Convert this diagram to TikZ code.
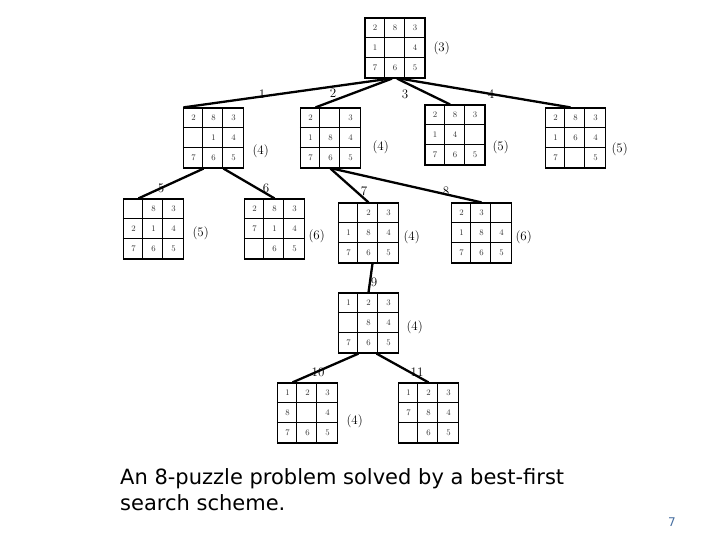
\documentclass[tikz,border=0pt]{standalone}
\usepackage{fontspec}
\newfontfamily\capfont{DejaVu Sans}
\usetikzlibrary{calc}
\tikzset{
  pbox/.style={draw, line width=1.2pt, minimum size=60pt, inner sep=0pt},
  gridl/.style={line width=0.9pt},
  num/.style={font=\fontsize{8.5}{8.5}\selectfont, text=black!80},
  score/.style={font=\fontsize{13}{13}\selectfont, anchor=west},
  elab/.style={font=\fontsize{13}{13}\selectfont},
  edge/.style={line width=2.3pt}
}
\newcommand\puzzle[4]{%
  \node[pbox] (#1) at (#2,#3) {};
  \draw[gridl] ($(#1.north west)+(20,0)$) -- ($(#1.south west)+(20,0)$)
               ($(#1.north west)+(40,0)$) -- ($(#1.south west)+(40,0)$)
               ($(#1.north west)+(0,20)$) -- ($(#1.north east)+(0,20)$)
               ($(#1.north west)+(0,40)$) -- ($(#1.north east)+(0,40)$);
  \foreach \v [count=\i from 0] in {#4} {
    \pgfmathtruncatemacro\rr{int(\i/3)}
    \pgfmathtruncatemacro\cc{mod(\i,3)}
    \node[num] at ($(#1)+(-20+20*\cc,-20+20*\rr)$) {\v};
  }
}
\begin{document}
\begin{tikzpicture}[x=1pt,y=-1pt]
\useasboundingbox[fill=white] (0,0) rectangle (720,540);
\puzzle{r}{395}{48}{2,8,3,1,{},4,7,6,5}
\puzzle{a}{213.5}{138}{2,8,3,{},1,4,7,6,5}
\puzzle{b}{330.5}{138}{2,{},3,1,8,4,7,6,5}
\puzzle{c}{455}{135}{2,8,3,1,4,{},7,6,5}
\puzzle{d}{575.5}{138}{2,8,3,1,6,4,7,{},5}
\puzzle{e}{153.5}{229}{{},8,3,2,1,4,7,6,5}
\puzzle{f}{274.5}{229}{2,8,3,7,1,4,{},6,5}
\puzzle{g}{368.5}{233}{{},2,3,1,8,4,7,6,5}
\puzzle{h}{481.5}{233}{2,3,{},1,8,4,7,6,5}
\puzzle{i}{368.5}{323}{1,2,3,{},8,4,7,6,5}
\puzzle{j}{307.5}{413}{1,2,3,8,{},4,7,6,5}
\puzzle{k}{428.5}{413}{1,2,3,7,8,4,{},6,5}
% scores
\node[score] (sr) at (430,48) {(3)};
\node[score] (sa) at (249,151) {(4)};
\node[score] (sb) at (369,147) {(4)};
\node[score] (sc) at (489,147) {(5)};
\node[score] (sd) at (608,149) {(5)};
\node[score] (se) at (189,233) {(5)};
\node[score] (sf) at (305,236) {(6)};
\node[score] (sg) at (400,237) {(4)};
\node[score] (sh) at (512,237) {(6)};
\node[score] (si) at (403,327) {(4)};
\node[score] (sj) at (343,421) {(4)};
% edges
\draw[edge] ([xshift=-5pt]r.south) -- ([xshift=-30pt]a.north);
\draw[edge] ([xshift=-3pt]r.south) -- ([xshift=-15pt]b.north);
\draw[edge] ([xshift=2pt]r.south) -- ([xshift=-5pt]c.north);
\draw[edge] ([xshift=5pt]r.south) -- ([xshift=-5pt]d.north);
\draw[edge] ([xshift=-10pt]a.south) -- ([xshift=-15pt]e.north);
\draw[edge] ([xshift=10pt]a.south) -- ([xshift=0pt]f.north);
\draw[edge] ([xshift=0pt]b.south) -- ([xshift=0pt]g.north);
\draw[edge] ([xshift=2pt]b.south) -- ([xshift=0pt]h.north);
\draw[edge] ([xshift=4pt]g.south) -- ([xshift=0pt]i.north);
\draw[edge] ([xshift=-10pt]i.south) -- ([xshift=-15pt]j.north);
\draw[edge] ([xshift=8pt]i.south) -- ([xshift=0pt]k.north);
% edge labels
\node[elab] (l1) at (262,94) {1};
\node[elab] (l2) at (333,93) {2};
\node[elab] (l3) at (405,94) {3};
\node[elab] (l4) at (491,94) {4};
\node[elab] (l5) at (161,188) {5};
\node[elab] (l6) at (266,188) {6};
\node[elab] (l7) at (364,191) {7};
\node[elab] (l8) at (446,191) {8};
\node[elab] (l9) at (374,282) {9};
\node[elab] (l10) at (318,372) {10};
\node[elab] (l11) at (417,372) {11};
% caption
\node[anchor=north west, align=left, font=\capfont\fontsize{21}{26}\selectfont, inner sep=0pt] (cap) at (120,468)
  {An 8-puzzle problem solved by a best-first\\search scheme.};
\node[font=\capfont\fontsize{12}{12}\selectfont, text={rgb,255:red,70;green,110;blue,160}] (pg) at (672,522) {7};
\end{tikzpicture}
\end{document}
